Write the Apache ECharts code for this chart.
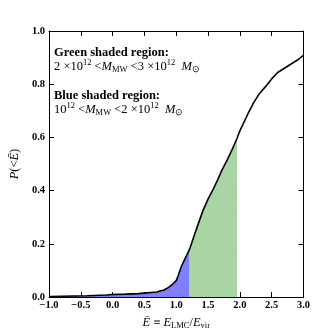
<!DOCTYPE html>
<html>
<head>
<meta charset="utf-8">
<script src="https://cdn.jsdelivr.net/npm/echarts@6/dist/echarts.min.js"></script>
<style>html,body{margin:0;padding:0;background:#fff}#c{width:313px;height:335px}</style>
</head>
<body>
<div id="c"></div>
<script>
// Curve: cumulative probability P(<E) vs E
var eVals = [-1.0, -0.8, -0.6, -0.4, -0.2, -0.1, 0.0, 0.2, 0.4, 0.5, 0.6, 0.7, 0.75, 0.8, 0.85, 0.9, 0.95, 1.0, 1.03, 1.08, 1.12, 1.16, 1.21, 1.28, 1.35, 1.42, 1.5, 1.58, 1.65, 1.72, 1.8, 1.88, 1.955, 2.0, 2.07, 2.14, 2.22, 2.3, 2.4, 2.5, 2.6, 2.7, 2.8, 2.9, 3.0];
var pVals = [0.002, 0.003, 0.004, 0.005, 0.007, 0.008, 0.010, 0.011, 0.013, 0.015, 0.017, 0.019, 0.024, 0.026, 0.032, 0.040, 0.050, 0.062, 0.080, 0.115, 0.135, 0.155, 0.180, 0.230, 0.278, 0.325, 0.368, 0.405, 0.440, 0.478, 0.515, 0.555, 0.596, 0.625, 0.660, 0.695, 0.732, 0.762, 0.790, 0.820, 0.845, 0.860, 0.875, 0.890, 0.908];
// shaded ranges
var blueRange = [-1.0, 1.21];
var greenRange = [1.21, 1.955];
var xTicks = [-1.0, -0.5, 0.0, 0.5, 1.0, 1.5, 2.0, 2.5, 3.0];
var yTicks = [0.0, 0.2, 0.4, 0.6, 0.8, 1.0];

var curve = eVals.map(function(x, i){ return [x, pVals[i]]; });
function inRange(r){ return curve.filter(function(d){ return d[0] >= r[0] - 1e-9 && d[0] <= r[1] + 1e-9; }); }

var serif = 'Liberation Serif';
function fmt(v){ var s = Math.abs(v).toFixed(1); return v < 0 ? '\u2212' + s : s; }

var chart = echarts.init(document.getElementById('c'), null, {renderer: 'canvas'});
var tickStyle = {show: true, inside: true, length: 5, lineStyle: {color: '#000', width: 1}};
var lineStyle = {show: true, onZero: false, lineStyle: {color: '#000', width: 1}};
chart.setOption({
  animation: false,
  grid: {left: 42, right: 7, top: 31, bottom: 34},
  xAxis: [{
    type: 'value', min: -1, max: 3, interval: 0.5, position: 'bottom',
    axisLine: lineStyle, axisTick: tickStyle, splitLine: {show: false},
    axisLabel: {formatter: fmt, color: '#000', fontFamily: serif, fontWeight: 'bold', fontSize: 10.5, margin: 3, showMinLabel: true, showMaxLabel: true},
    name: '{i|\u0112} \u2261 {i|E}{s|LMC}/{i|E}{s|vir}',
    nameLocation: 'middle', nameGap: 17,
    nameTextStyle: {color: '#000', fontFamily: serif, fontSize: 12.5, rich: {
      i: {fontFamily: serif, fontStyle: 'italic', fontSize: 12.5, color: '#000'},
      s: {fontFamily: serif, fontSize: 8.5, color: '#000', padding: [6, 0, 0, 0]}
    }}
  }, {
    type: 'value', position: 'top', min: -1, max: 3, interval: 0.5,
    axisLine: lineStyle, axisTick: tickStyle, splitLine: {show: false}, axisLabel: {show: false}
  }],
  yAxis: [{
    type: 'value', min: 0, max: 1, interval: 0.2, position: 'left',
    axisLine: lineStyle, axisTick: tickStyle, splitLine: {show: false},
    axisLabel: {formatter: function(v){ return v.toFixed(1); }, color: '#000', fontFamily: serif, fontWeight: 'bold', fontSize: 10.5, margin: 4},
    name: '{i|P}(<{i|\u0112})', nameLocation: 'middle', nameGap: 26, nameRotate: 90,
    nameTextStyle: {color: '#000', fontFamily: serif, fontSize: 12.5, rich: {
      i: {fontFamily: serif, fontStyle: 'italic', fontSize: 12.5, color: '#000'}
    }}
  }, {
    type: 'value', position: 'right', min: 0, max: 1, interval: 0.2,
    axisLine: lineStyle, axisTick: tickStyle, splitLine: {show: false}, axisLabel: {show: false}
  }],
  series: [{
    type: 'line', data: inRange(blueRange), symbol: 'none', z: 1,
    lineStyle: {width: 0}, areaStyle: {color: '#7f7fff', opacity: 1}
  }, {
    type: 'line', data: inRange(greenRange), symbol: 'none', z: 1,
    lineStyle: {width: 0}, areaStyle: {color: '#a8d5a3', opacity: 1}
  }, {
    type: 'line', data: curve, symbol: 'none', z: 3,
    lineStyle: {color: '#000', width: 1.6}
  }],
  graphic: [{
    type: 'text', left: 54, top: 46,
    style: {
      text: '{b|Green shaded region:}\n{n|2 \u00d710}{sup|12}{n| <}{i|M}{sub|MW}{n| <3 \u00d710}{sup|12}{n|  }{i|M}{sub|\u2299}\n{gap| }\n{b|Blue shaded region:}\n{n|10}{sup|12}{n| <}{i|M}{sub|MW}{n| <2 \u00d710}{sup|12}{n|  }{i|M}{sub|\u2299}',
      rich: {
        b: {fontFamily: serif, fontWeight: 'bold', fontSize: 12.5, fill: '#000', lineHeight: 14},
        n: {fontFamily: serif, fontSize: 12.5, fill: '#000', lineHeight: 14},
        i: {fontFamily: serif, fontStyle: 'italic', fontSize: 12.5, fill: '#000', lineHeight: 14},
        gap: {fontSize: 8, lineHeight: 15},
        sup: {fontFamily: serif, fontSize: 8.5, fill: '#000', padding: [0, 0, 7, 0], lineHeight: 14},
        sub: {fontFamily: serif, fontSize: 8.5, fill: '#000', padding: [6, 0, 0, 0], lineHeight: 14}
      }
    }
  }]
});
</script>
</body>
</html>
